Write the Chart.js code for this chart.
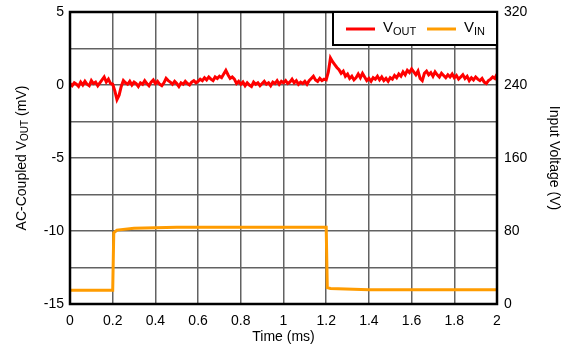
<!DOCTYPE html>
<html>
<head>
<meta charset="utf-8">
<script src="https://cdn.jsdelivr.net/npm/chart.js@4/dist/chart.umd.min.js"></script>
<style>
  html, body { margin: 0; padding: 0; background: #fff; }
  #wrap { width: 566px; height: 350px; position: relative; }
</style>
</head>
<body>
<div id="wrap"><canvas id="chart" width="566" height="350"></canvas></div>
<script>
// time base for the V_OUT trace (ms), one sample every 0.01 ms
const voutTime = Array.from({ length: 201 }, (_, i) => i / 100);

// AC-coupled output (mV)
const voutValues = [
  0.10, -0.05, 0.15, 0.05, -0.10, 0.20, 0.00, 0.25, 0.05, -0.05,
  0.30, 0.10, 0.20, -0.05, 0.15, 0.35, 0.55, 0.20, 0.40, 0.10,
  0.05, -0.40, -1.00, -0.70, -0.10, 0.30, 0.15, 0.05, 0.25, 0.00,
  0.20, 0.10, -0.10, 0.15, 0.05, 0.30, 0.10, -0.05, 0.20, 0.35,
  0.10, 0.25, 0.05, -0.05, 0.15, 0.45, 0.30, 0.20, 0.05, 0.25,
  0.10, -0.10, 0.15, 0.05, 0.25, 0.10, 0.00, 0.20, 0.30, 0.15,
  0.25, 0.40, 0.30, 0.50, 0.35, 0.55, 0.40, 0.30, 0.55, 0.45,
  0.60, 0.50, 0.75, 1.00, 0.70, 0.45, 0.55, 0.40, 0.10, 0.25,
  0.05, 0.20, -0.05, 0.15, 0.00, -0.10, 0.20, 0.05, 0.15, -0.05,
  0.10, 0.25, 0.05, 0.15, -0.05, 0.20, 0.10, 0.30, 0.05, 0.25,
  0.15, 0.30, 0.10, 0.20, 0.40, 0.15, 0.30, 0.05, 0.20, 0.10,
  0.25, 0.05, 0.30, 0.45, 0.60, 0.35, 0.25, 0.45, 0.30, 0.40,
  0.35, 0.90, 1.85, 1.60, 1.40, 1.20, 1.05, 0.80, 0.95, 0.60,
  0.75, 0.45, 0.60, 0.35, 0.50, 0.75, 0.50, 0.80, 0.55, 0.30,
  0.45, 0.25, 0.50, 0.40, 0.60, 0.35, 0.55, 0.30, 0.45, 0.25,
  0.50, 0.40, 0.65, 0.50, 0.75, 0.60, 0.90, 0.70, 1.00, 0.85,
  1.10, 0.90, 0.70, 0.95, 0.45, 0.30, 0.80, 0.95, 0.70, 0.85,
  0.60, 0.90, 0.70, 0.55, 0.80, 0.65, 0.50, 0.70, 0.55, 0.75,
  0.50, 0.65, 0.40, 0.55, 0.70, 0.45, 0.60, 0.30, 0.50, 0.35,
  0.55, 0.40, 0.30, 0.45, 0.20, 0.10, 0.30, 0.40, 0.55, 0.45,
  0.75
];

// input voltage step (V)
const vinTime   = [0, 0.2, 0.205, 0.22, 0.3, 0.5, 1.0, 1.2, 1.205, 1.22, 1.4, 2.0];
const vinValues = [15, 15, 78, 81, 83, 84, 84, 84, 18, 17, 15.5, 15.5];

// tick labels
const xTicks = [0, 0.2, 0.4, 0.6, 0.8, 1, 1.2, 1.4, 1.6, 1.8, 2];
const leftTicks = [5, 0, -5, -10, -15];
const rightTicks = [320, 240, 160, 80, 0];

const FONT = '"Liberation Sans", Arial, Helvetica, sans-serif';
const RED = '#ff0000';
const ORANGE = '#ff9c00';
const GRID = '#626262';

// draws "V" with a subscript, returns width
function subText(ctx, main, sub, x, y, size) {
  ctx.font = size + 'px ' + FONT;
  ctx.fillText(main, x, y);
  const w1 = ctx.measureText(main).width;
  ctx.font = Math.round(size * 0.72) + 'px ' + FONT;
  ctx.fillText(sub, x + w1, y + size * 0.25);
  return w1 + ctx.measureText(sub).width;
}

const decorations = {
  id: 'decorations',
  afterDraw(chart) {
    const ctx = chart.ctx;
    const a = chart.chartArea;
    ctx.save();

    // frame
    ctx.strokeStyle = '#000';
    ctx.lineWidth = 2.5;
    ctx.strokeRect(a.left, a.top, a.right - a.left, a.bottom - a.top);

    // legend box
    const lx = a.right - 164, ly = a.top, lw = 164, lh = 33;
    ctx.fillStyle = '#fff';
    ctx.fillRect(lx, ly, lw, lh);
    ctx.lineWidth = 2;
    ctx.strokeRect(lx, ly, lw, lh);

    ctx.lineWidth = 3;
    ctx.strokeStyle = RED;
    ctx.beginPath(); ctx.moveTo(lx + 13, ly + 17); ctx.lineTo(lx + 42, ly + 17); ctx.stroke();
    ctx.strokeStyle = ORANGE;
    ctx.beginPath(); ctx.moveTo(lx + 94, ly + 17); ctx.lineTo(lx + 123, ly + 17); ctx.stroke();

    ctx.fillStyle = '#000';
    ctx.textBaseline = 'middle';
    ctx.textAlign = 'left';
    subText(ctx, 'V', 'OUT', lx + 50, ly + 16, 15);
    subText(ctx, 'V', 'IN', lx + 131, ly + 16, 15);

    // left axis title, rotated
    ctx.translate(22, (a.top + a.bottom) / 2);
    ctx.rotate(-Math.PI / 2);
    const p1 = 'AC-Coupled ', p3 = ' (mV)';
    ctx.font = '14px ' + FONT;
    const w1 = ctx.measureText(p1).width;
    const w2 = ctx.measureText('V').width;
    ctx.font = '10px ' + FONT;
    const w3 = ctx.measureText('OUT').width;
    ctx.font = '14px ' + FONT;
    const w4 = ctx.measureText(p3).width;
    let x = -(w1 + w2 + w3 + w4) / 2;
    ctx.fillText(p1, x, 0);
    x += w1;
    x += subText(ctx, 'V', 'OUT', x, 0, 14);
    ctx.font = '14px ' + FONT;
    ctx.fillText(p3, x, 0);

    ctx.restore();
  }
};

const ctx = document.getElementById('chart').getContext('2d');
new Chart(ctx, {
  type: 'line',
  data: {
    datasets: [
      {
        label: 'VOUT',
        data: voutTime.map((t, i) => ({ x: t, y: voutValues[i] })),
        borderColor: RED,
        borderWidth: 3,
        pointRadius: 0,
        tension: 0,
        yAxisID: 'y'
      },
      {
        label: 'VIN',
        data: vinTime.map((t, i) => ({ x: t, y: vinValues[i] })),
        borderColor: ORANGE,
        borderWidth: 3,
        pointRadius: 0,
        tension: 0,
        yAxisID: 'y2'
      }
    ]
  },
  options: {
    responsive: false,
    animation: false,
    layout: { padding: { top: 12, left: 0, right: 0, bottom: 0 } },
    plugins: { legend: { display: false }, tooltip: { enabled: false } },
    scales: {
      x: {
        type: 'linear',
        min: 0,
        max: 2,
        afterBuildTicks(scale) { scale.ticks = xTicks.map(v => ({ value: v })); },
        afterFit(scale) { scale.height = 46; scale.paddingLeft = 0; scale.paddingRight = 0; },
        grid: { color: GRID, lineWidth: 1.5, drawTicks: false },
        border: { display: false },
        ticks: {
          color: '#000',
          font: { family: FONT, size: 14 },
          padding: 9,
          maxRotation: 0,
          callback: v => String(v)
        },
        title: {
          display: true,
          text: 'Time (ms)',
          color: '#000',
          font: { family: FONT, size: 14 },
          padding: { top: 0 }
        }
      },
      y: {
        position: 'left',
        min: -15,
        max: 5,
        afterBuildTicks(scale) {
          const t = [];
          for (let v = -15; v <= 5; v += 2.5) t.push({ value: v });
          scale.ticks = t;
        },
        afterFit(scale) { scale.width = 70; scale.paddingTop = 0; scale.paddingBottom = 0; },
        grid: { color: GRID, lineWidth: 1.5, drawTicks: false },
        border: { display: false },
        ticks: {
          color: '#000',
          font: { family: FONT, size: 14 },
          padding: 6,
          callback: v => (leftTicks.includes(v) ? String(v) : '')
        }
      },
      y2: {
        position: 'right',
        min: 0,
        max: 320,
        afterBuildTicks(scale) { scale.ticks = rightTicks.map(v => ({ value: v })); },
        afterFit(scale) { scale.width = 69; scale.paddingTop = 0; scale.paddingBottom = 0; },
        grid: { display: false, drawTicks: false },
        border: { display: false },
        ticks: {
          color: '#000',
          font: { family: FONT, size: 14 },
          padding: 7,
          callback: v => String(v)
        },
        title: {
          display: true,
          text: 'Input Voltage (V)',
          color: '#000',
          font: { family: FONT, size: 14 },
          padding: { bottom: 10 }
        }
      }
    }
  },
  plugins: [decorations]
});
</script>
</body>
</html>
